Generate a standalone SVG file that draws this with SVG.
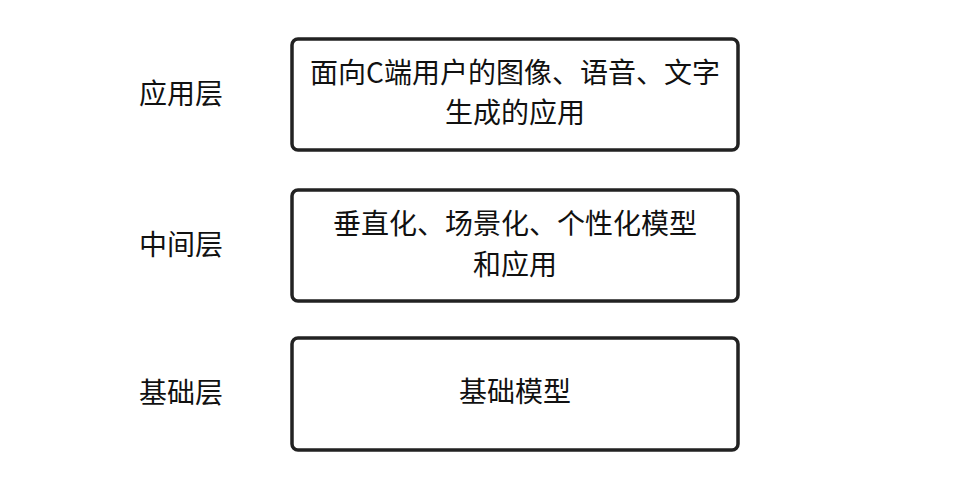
<svg xmlns="http://www.w3.org/2000/svg" width="974" height="482" viewBox="0 0 974 482">
<style>
.box{fill:#fff;stroke:#222;stroke-width:3.5}
.t{font-family:"Noto Sans CJK SC","Liberation Sans",sans-serif;font-size:28px;fill:#111;text-anchor:middle;dominant-baseline:central}
</style>
<rect width="974" height="482" fill="#fff"/>
<g id="label-app"><text class="t" x="181" y="92">应用层</text></g>
<g id="label-mid"><text class="t" x="181" y="243">中间层</text></g>
<g id="label-base"><text class="t" x="181" y="391">基础层</text></g>
<g id="node-app"><rect class="box" x="292" y="39" width="446" height="111" rx="6"/>
<text class="t" x="515" y="71">面向C端用户的图像、语音、文字</text>
<text class="t" x="515" y="111">生成的应用</text></g>
<g id="node-mid"><rect class="box" x="292" y="190" width="446" height="111" rx="6"/>
<text class="t" x="515" y="222">垂直化、场景化、个性化模型</text>
<text class="t" x="515" y="263">和应用</text></g>
<g id="node-base"><rect class="box" x="292" y="338" width="446" height="112" rx="6"/>
<text class="t" x="515" y="390">基础模型</text></g>
<g id="connectors"></g>
</svg>
